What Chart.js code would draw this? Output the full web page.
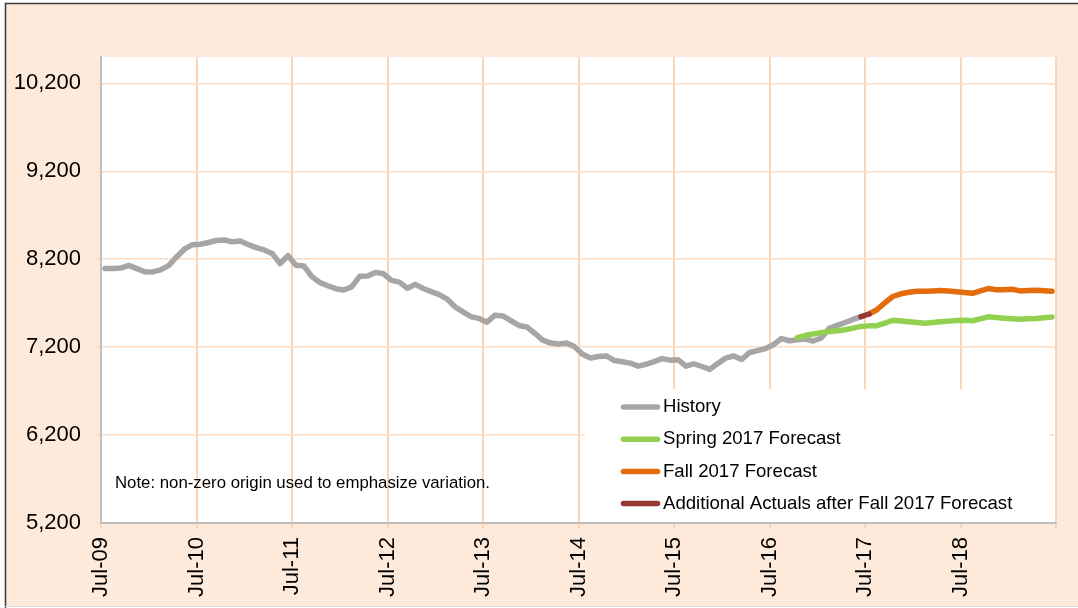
<!DOCTYPE html>
<html>
<head>
<meta charset="utf-8">
<script src="https://cdn.jsdelivr.net/npm/chart.js@4.4.0/dist/chart.umd.min.js"></script>
<style>
  html, body { margin: 0; padding: 0; background: #ffffff; }
  canvas { display: block; }
</style>
</head>
<body>
<canvas id="graphique" width="1078" height="608"></canvas>
<script>
// ---- data (monthly, first value = Jul-09) ----
const xTickLabels = ["Jul-09", "Jul-10", "Jul-11", "Jul-12", "Jul-13", "Jul-14", "Jul-15", "Jul-16", "Jul-17", "Jul-18"];
const yTicks = [5200, 6200, 7200, 8200, 9200, 10200];

const history = [
  8094, 8094, 8099, 8130, 8093, 8057, 8056, 8079, 8127, 8226, 8317, 8366,
  8370, 8390, 8413, 8419, 8398, 8407, 8368, 8332, 8306, 8266, 8151, 8240,
  8132, 8122, 8002, 7936, 7898, 7865, 7850, 7885, 8006, 8010, 8050, 8034,
  7959, 7939, 7869, 7914, 7867, 7831, 7798, 7747, 7657, 7601, 7546, 7527,
  7484, 7564, 7555, 7501, 7447, 7430, 7358, 7280, 7246, 7236, 7246, 7206,
  7120, 7077, 7094, 7100, 7048, 7034, 7018, 6984, 7005, 7035, 7070, 7052,
  7058, 6984, 7011, 6980, 6947, 7013, 7076, 7099, 7061, 7139, 7161, 7184,
  7228, 7298, 7273, 7285, 7292, 7270, 7304, 7415, 7448, 7480, 7515, 7547
];
const historyStart = 0;     // Jul-09

const spring = [
  7308, 7332, 7350, 7365, 7377, 7386, 7398, 7417, 7436, 7442, 7444, 7474,
  7506, 7498, 7489, 7480, 7472, 7480, 7489, 7496, 7504, 7505, 7500, 7522,
  7545, 7536, 7530, 7524, 7518, 7522, 7526, 7535, 7544
];
const springStart = 87;     // Oct-16

const fall = [
  7577, 7625, 7705, 7776, 7807, 7824, 7836, 7836, 7840, 7843, 7838, 7831,
  7822, 7813, 7841, 7866, 7853, 7852, 7858, 7840, 7843, 7848, 7842, 7836
];
const fallStart = 96;       // Jul-17

const additional = [7547, 7577];
const additionalStart = 95; // Jun-17

const legendItems = [
  { label: "History", color: "#A6A6A6" },
  { label: "Spring 2017 Forecast", color: "#92D050" },
  { label: "Fall 2017 Forecast", color: "#E46C0A" },
  { label: "Additional Actuals after Fall 2017 Forecast", color: "#953735" }
];
const noteText = "Note: non-zero origin used to emphasize variation.";

// points sit in the middle of their month
function toPoints(values, start) {
  return values.map((v, i) => ({ x: start + i + 0.5, y: v }));
}

const FONT = "'Liberation Sans', Arial, sans-serif";

// fond, cadre et zone de tracé
const backgroundPlugin = {
  id: "fond",
  beforeDraw(chart) {
    const c = chart.ctx;
    const a = chart.chartArea;
    c.save();
    c.fillStyle = "#ffffff";
    c.fillRect(0, 0, chart.width, chart.height);
    c.fillStyle = "#FDEADA";
    c.fillRect(5, 3, chart.width - 5, 603);
    c.fillStyle = "#ffffff";
    c.fillRect(a.left, a.top, a.right - a.left, a.bottom - a.top);
    c.strokeStyle = "#3a3a3a";
    c.lineWidth = 1.5;
    c.beginPath();
    c.moveTo(5.5, chart.height);
    c.lineTo(5.5, 3.5);
    c.lineTo(chart.width, 3.5);
    c.stroke();
    c.strokeStyle = "#d9d9d9";
    c.lineWidth = 1;
    c.beginPath();
    c.moveTo(5, 606.5);
    c.lineTo(chart.width, 606.5);
    c.stroke();
    c.restore();
  }
};

// légende dans la zone de tracé + note
const legendPlugin = {
  id: "legendeInterne",
  afterDatasetsDraw(chart) {
    const c = chart.ctx;
    c.save();
    c.fillStyle = "#ffffff";
    c.fillRect(585, 389, 464, 133);
    c.font = "18.6px " + FONT;
    c.textBaseline = "middle";
    c.textAlign = "left";
    legendItems.forEach((item, i) => {
      const y = 407 + i * 32.2;
      c.strokeStyle = item.color;
      c.lineWidth = 5.5;
      c.lineCap = "round";
      c.beginPath();
      c.moveTo(623.5, y);
      c.lineTo(657.5, y);
      c.stroke();
      c.fillStyle = "#000000";
      c.fillText(item.label, 663, y);
    });
    c.font = "16.8px " + FONT;
    c.fillText(noteText, 115, 483);
    c.restore();
  }
};

function lineSet(label, values, start, color, order) {
  return {
    label: label,
    data: toPoints(values, start),
    borderColor: color,
    backgroundColor: color,
    borderWidth: 5.5,
    borderCapStyle: "round",
    borderJoinStyle: "round",
    pointRadius: 0,
    tension: 0,
    fill: false,
    order: order
  };
}

function createChart() {
  const ctx = document.getElementById("graphique");
  new Chart(ctx, {
    type: "line",
    data: {
      datasets: [
        lineSet("Additional Actuals after Fall 2017 Forecast", additional, additionalStart, "#953735", 1),
        lineSet("Spring 2017 Forecast", spring, springStart, "#92D050", 2),
        lineSet("Fall 2017 Forecast", fall, fallStart, "#E46C0A", 3),
        lineSet("History", history, historyStart, "#A6A6A6", 4)
      ]
    },
    options: {
      responsive: false,
      animation: false,
      devicePixelRatio: 1,
      layout: { padding: { left: 0, top: 57, right: 22, bottom: 0 } },
      plugins: {
        legend: { display: false },
        tooltip: { enabled: false }
      },
      scales: {
        x: {
          type: "linear",
          min: 0,
          max: 120,
          afterBuildTicks(scale) {
            scale.ticks = xTickLabels.concat([""]).map((_, i) => ({ value: i * 12 }));
          },
          afterFit(scale) {
            scale.height = 85;
            scale.paddingLeft = 0;
            scale.paddingRight = 0;
          },
          ticks: {
            autoSkip: false,
            minRotation: 90,
            maxRotation: 90,
            padding: 9,
            color: "#000000",
            font: { family: FONT, size: 22 },
            callback: (value, index) => xTickLabels[index] || ""
          },
          grid: {
            color: "#FCD5B4",
            lineWidth: 2,
            tickColor: "#FCD5B4",
            tickLength: 5
          },
          border: { color: "#BFBFBF", width: 2 }
        },
        y: {
          min: 5200,
          max: 10500,
          afterBuildTicks(scale) {
            scale.ticks = yTicks.map(v => ({ value: v }));
          },
          afterFit(scale) {
            scale.width = 101;
            scale.paddingTop = 0;
            scale.paddingBottom = 0;
          },
          ticks: {
            padding: 15,
            color: "#000000",
            font: { family: FONT, size: 22 },
            callback: v => v.toLocaleString("en-US")
          },
          grid: {
            color: "#FBDCC4",
            lineWidth: 1.5,
            tickColor: "#FBDCC4",
            tickLength: 5
          },
          border: { color: "#BFBFBF", width: 2 }
        }
      }
    },
    plugins: [backgroundPlugin, legendPlugin]
  });
}

document.addEventListener("DOMContentLoaded", createChart);
</script>
</body>
</html>
